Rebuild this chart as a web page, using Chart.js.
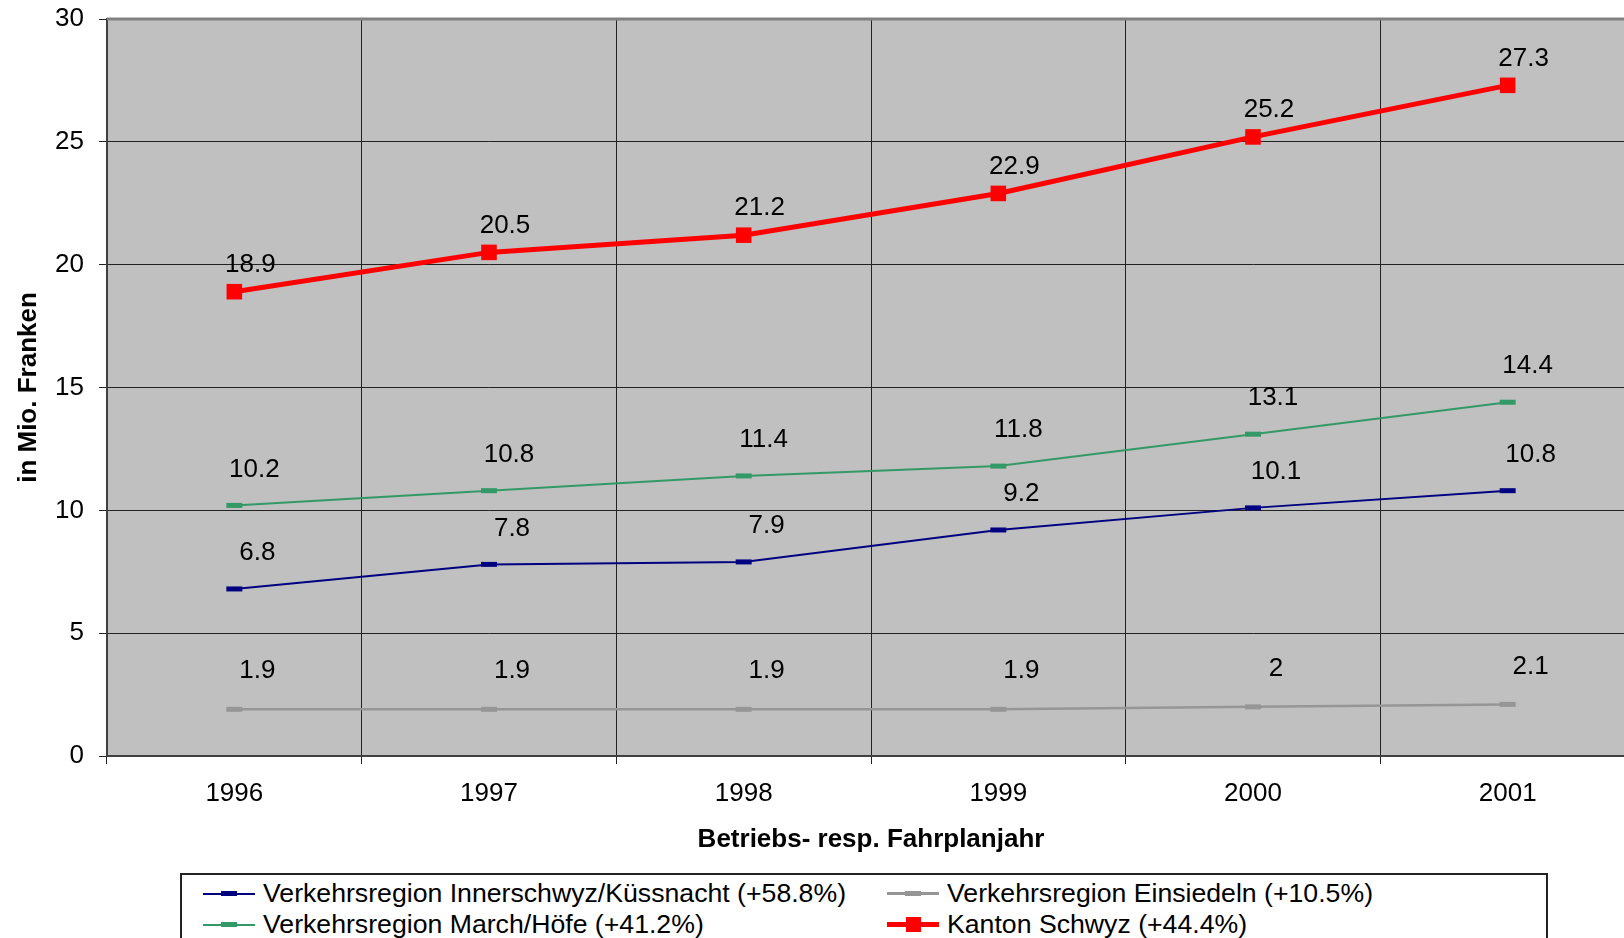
<!DOCTYPE html>
<html>
<head>
<meta charset="utf-8">
<script src="https://cdn.jsdelivr.net/npm/chart.js@4"></script>
<style>
html, body { margin: 0; padding: 0; background: #fff; overflow: hidden; width: 1624px; height: 938px; }
#wrap { position: absolute; left: 0; top: 0; width: 1648px; height: 938px; }
#legende {
  position: absolute; left: 180px; top: 873px; width: 1368px; height: 100px;
  border: 2px solid #222; box-sizing: border-box; background: #fff;
  padding: 3px 0 0 21px;
  display: grid; grid-template-columns: 684px auto; grid-auto-rows: 31px;
  font: 26.67px "Liberation Sans", Arial, sans-serif; color: #000;
}
.eintrag { display: flex; align-items: center; white-space: nowrap; }
.muster { position: relative; width: 52px; height: 20px; margin-right: 8px; flex: none; }
.muster .linie { position: absolute; left: 0; right: 0; top: 50%; }
.muster .punkt { position: absolute; left: 50%; top: 50%; }
</style>
</head>
<body>
<div id="wrap"><canvas id="grafik" width="1648" height="938"></canvas></div>
<div id="legende"></div>
<script>
const jahre = ["1996", "1997", "1998", "1999", "2000", "2001"];
const innerschwyz = [6.8, 7.8, 7.9, 9.2, 10.1, 10.8];
const einsiedeln = [1.9, 1.9, 1.9, 1.9, 2, 2.1];
const marchHoefe = [10.2, 10.8, 11.4, 11.8, 13.1, 14.4];
const kantonSchwyz = [18.9, 20.5, 21.2, 22.9, 25.2, 27.3];
const yTicks = [0, 5, 10, 15, 20, 25, 30];

const SCHRIFT = '"Liberation Sans", Arial, sans-serif';

// Reihenfolge wie in der Excel-Legende (zeilenweise)
const reihen = [
  { label: "Verkehrsregion Innerschwyz/Küssnacht (+58.8%)", data: innerschwyz, borderColor: "#000080", borderWidth: 2,
    pointStyle: "line", pointRadius: 8, pointBorderWidth: 5, labelDx: 23, labelDy: -36, marker: [16, 5] },
  { label: "Verkehrsregion Einsiedeln (+10.5%)", data: einsiedeln, borderColor: "#969696", borderWidth: 2.5,
    pointStyle: "line", pointRadius: 8, pointBorderWidth: 5, labelDx: 23, labelDy: -38, marker: [16, 5] },
  { label: "Verkehrsregion March/Höfe (+41.2%)", data: marchHoefe, borderColor: "#339966", borderWidth: 2,
    pointStyle: "line", pointRadius: 8, pointBorderWidth: 5, labelDx: 20, labelDy: -36, marker: [16, 5] },
  { label: "Kanton Schwyz (+44.4%)", data: kantonSchwyz, borderColor: "#FF0000", borderWidth: 5,
    pointStyle: "rect", pointRadius: 11, pointBorderWidth: 0, labelDx: 16, labelDy: -27, marker: [15, 15] }
];

// Grauer Plotbereich + obere Kante
const hintergrund = {
  id: "hintergrund",
  beforeDraw(chart) {
    const { ctx, chartArea: a } = chart;
    ctx.save();
    ctx.fillStyle = "#C0C0C0";
    ctx.fillRect(a.left, a.top, a.right - a.left, a.bottom - a.top);
    ctx.restore();
  },
  beforeDatasetsDraw(chart) {
    const { ctx, chartArea: a } = chart;
    ctx.save();
    ctx.strokeStyle = "#808080";
    ctx.lineWidth = 3;
    ctx.beginPath();
    ctx.moveTo(a.left, a.top);
    ctx.lineTo(a.right, a.top);
    ctx.stroke();
    ctx.restore();
  }
};

// Datenbeschriftungen
const etiketten = {
  id: "etiketten",
  afterDatasetsDraw(chart) {
    const ctx = chart.ctx;
    ctx.save();
    ctx.font = "26px " + SCHRIFT;
    ctx.fillStyle = "#000";
    ctx.textAlign = "center";
    ctx.textBaseline = "middle";
    chart.data.datasets.forEach((ds, i) => {
      chart.getDatasetMeta(i).data.forEach((pt, j) => {
        ctx.fillText(String(ds.data[j]), pt.x + ds.labelDx, pt.y + ds.labelDy);
      });
    });
    ctx.restore();
  }
};

new Chart(document.getElementById("grafik"), {
  type: "line",
  data: {
    labels: jahre,
    datasets: reihen.map(r => ({
      label: r.label, data: r.data, labelDx: r.labelDx, labelDy: r.labelDy,
      borderColor: r.borderColor, backgroundColor: r.borderColor, borderWidth: r.borderWidth,
      pointStyle: r.pointStyle, pointRadius: r.pointRadius, pointHoverRadius: r.pointRadius,
      pointBorderColor: r.borderColor, pointBackgroundColor: r.borderColor, pointBorderWidth: r.pointBorderWidth,
      tension: 0, fill: false
    }))
  },
  options: {
    responsive: false,
    animation: false,
    devicePixelRatio: 1,
    layout: { padding: { top: 19, right: 0, bottom: 0, left: 0 } },
    plugins: { legend: { display: false }, tooltip: { enabled: false } },
    scales: {
      x: {
        offset: true,
        grid: { offset: true, color: "#222", lineWidth: 1, tickLength: 8 },
        border: { color: "#404040", width: 2 },
        ticks: { color: "#000", font: { size: 26, family: SCHRIFT }, padding: 14, maxRotation: 0 },
        title: { display: true, text: "Betriebs- resp. Fahrplanjahr", color: "#000",
          font: { size: 26, weight: "bold", family: SCHRIFT }, padding: { top: 0, bottom: 83 } },
        afterFit(s) { s.height = 182; }
      },
      y: {
        min: 0, max: 30,
        afterBuildTicks(s) { s.ticks = yTicks.map(v => ({ value: v })); },
        grid: { color: "#222", lineWidth: 1, tickLength: 8 },
        border: { color: "#404040", width: 2 },
        ticks: { color: "#000", font: { size: 26, family: SCHRIFT }, padding: 15 },
        title: { display: true, text: "in Mio. Franken", color: "#000",
          font: { size: 26, weight: "bold", family: SCHRIFT }, padding: { top: 13, bottom: 0 } },
        afterFit(s) { s.width = 107; s.paddingTop = 0; s.paddingBottom = 0; }
      }
    }
  },
  plugins: [hintergrund, etiketten]
});

// HTML-Legende
const legende = document.getElementById("legende");
reihen.forEach(r => {
  const e = document.createElement("div");
  e.className = "eintrag";
  const [mw, mh] = r.marker;
  e.innerHTML =
    `<span class="muster"><span class="linie" style="height:${r.borderWidth}px;margin-top:${-r.borderWidth / 2}px;background:${r.borderColor}"></span>` +
    `<span class="punkt" style="width:${mw}px;height:${mh}px;margin-left:${-mw / 2}px;margin-top:${-mh / 2}px;background:${r.borderColor}"></span></span>` +
    `<span>${r.label}</span>`;
  legende.appendChild(e);
});
</script>
</body>
</html>
